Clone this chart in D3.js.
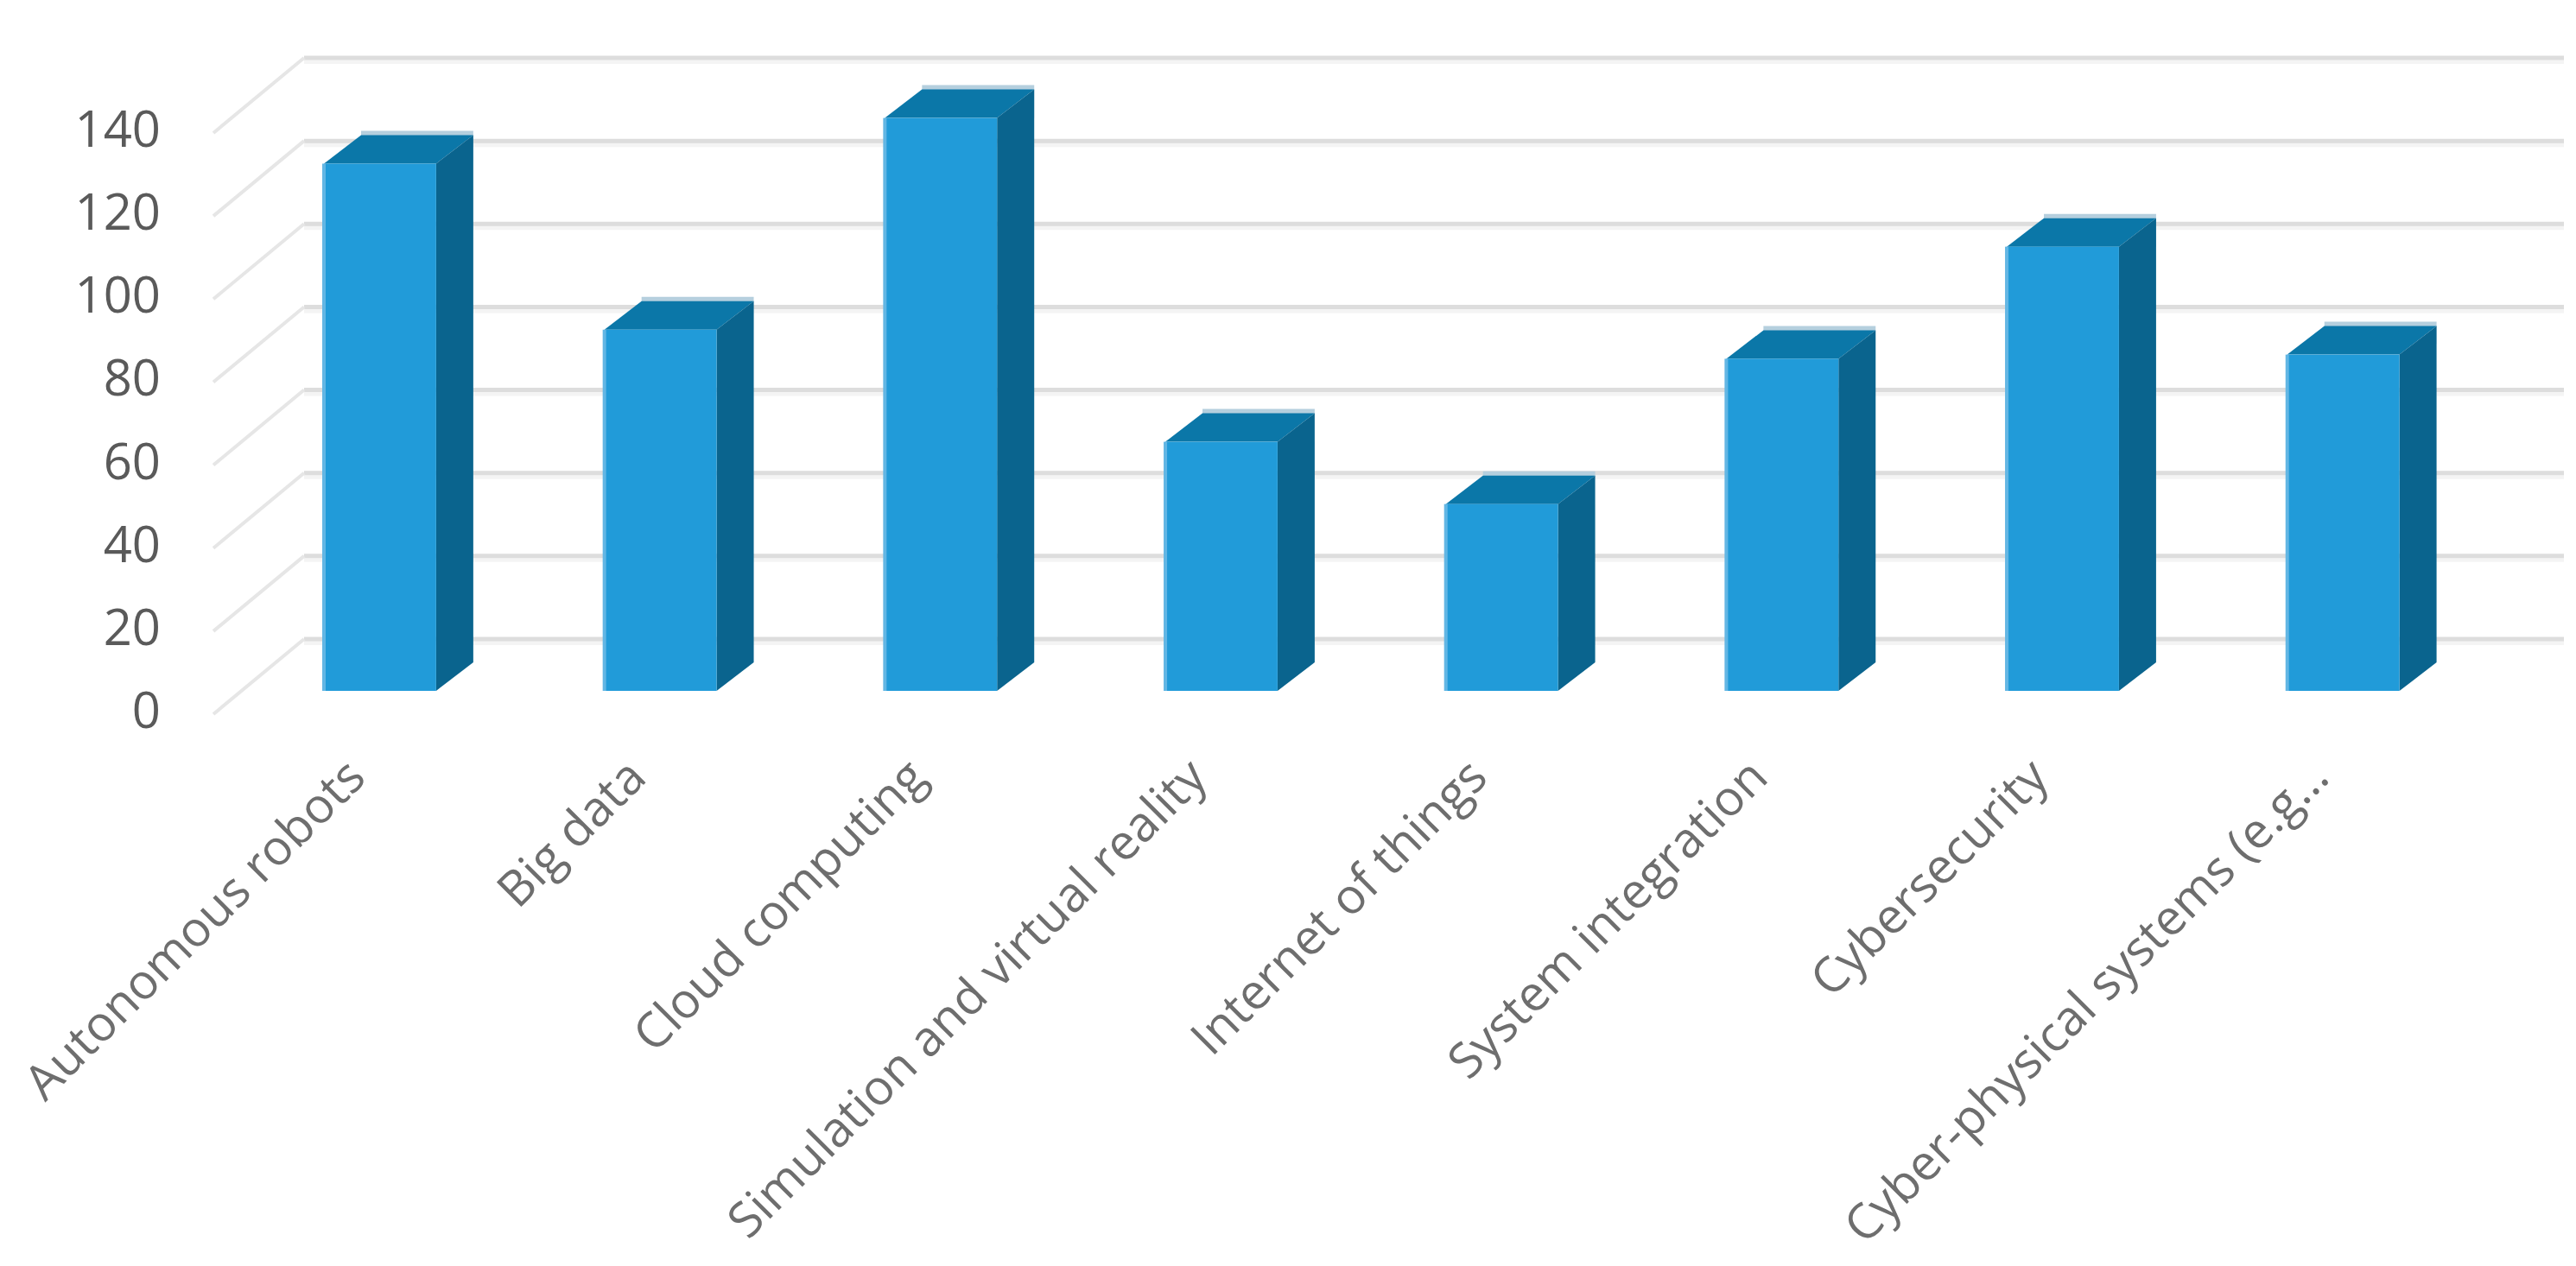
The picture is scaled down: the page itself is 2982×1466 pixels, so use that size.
<!DOCTYPE html>
<html>
<head>
<meta charset="utf-8">
<script src="https://cdn.jsdelivr.net/npm/d3@7"></script>
<style>
  html, body { margin: 0; background: #fff; }
  svg { display: block; }
  .tick text { font-family: "Open Sans", sans-serif; }
  .y-axis .tick text { font-size: 58px; fill: #5a5a5a; }
  .x-axis .tick text { font-size: 56.5px; fill: #6e6e6e; }
</style>
</head>
<body>
<svg id="chart" width="2982" height="1466"></svg>
<script>
const categories = [
  "Autonomous robots",
  "Big data",
  "Cloud computing",
  "Simulation and virtual reality",
  "Internet of things",
  "System integration",
  "Cybersecurity",
  "Cyber-physical systems (e.g…"
];
const counts = [127, 87, 138, 60, 45, 80, 107, 81];
const yTicks = [0, 20, 40, 60, 80, 100, 120, 140];

const colors = { front: "#219bd9", edge: "#62b6e4", side: "#0a648e", top: "#0b77a8", lip: "#b5cfde" };

// 3D look: floor depth of the chart box and depth of a single bar
const floor = { dx: 105, dy: 87, left: 247, right: 2968 };
const barDepth = { dx: 43, dy: 33, lift: 27 };

const svg = d3.select("#chart");

const xScale = d3.scaleBand()
  .domain(categories)
  .range([277.6, 2875])
  .paddingInner(0.6)
  .paddingOuter(0.3);

const yScale = d3.scaleLinear()
  .domain([0, 140])
  .range([827, 154]);

// Gridlines on the back wall and the side wall
const grid = svg.append("g").attr("class", "grid");

grid.selectAll(".grid-shade")
  .data(yTicks)
  .join("line")
    .attr("class", "grid-shade")
    .attr("x1", floor.left + floor.dx)
    .attr("x2", floor.right)
    .attr("y1", d => yScale(d) - floor.dy + 4)
    .attr("y2", d => yScale(d) - floor.dy + 4)
    .attr("stroke", "#f4f4f4")
    .attr("stroke-width", 6);

grid.selectAll(".grid-back")
  .data(yTicks)
  .join("line")
    .attr("class", "grid-back")
    .attr("x1", floor.left + floor.dx)
    .attr("x2", floor.right)
    .attr("y1", d => yScale(d) - floor.dy)
    .attr("y2", d => yScale(d) - floor.dy)
    .attr("stroke", "#dddddd")
    .attr("stroke-width", 5);

grid.selectAll(".grid-side")
  .data(yTicks)
  .join("line")
    .attr("class", "grid-side")
    .attr("x1", floor.left)
    .attr("x2", floor.left + floor.dx)
    .attr("y1", d => yScale(d))
    .attr("y2", d => yScale(d) - floor.dy)
    .attr("stroke", "#e6e6e6")
    .attr("stroke-width", 4);

// Bars: top and side faces first, then the front
const bars = svg.append("g")
  .attr("class", "bars")
  .selectAll(".bar")
  .data(categories.map((c, i) => ({ category: c, value: counts[i] })))
  .join("g")
    .attr("class", "bar");

const bx = d => xScale(d.category);
const bw = xScale.bandwidth();
const by = v => yScale(v) - barDepth.lift;

bars.append("path")
  .attr("fill", colors.lip)
  .attr("d", d => `M${bx(d) + barDepth.dx},${by(d.value) - barDepth.dy - 5}h${bw}v6h${-bw}z`);

bars.append("path")
  .attr("fill", colors.top)
  .attr("d", d => `M${bx(d)},${by(d.value)}l${barDepth.dx},${-barDepth.dy}h${bw}l${-barDepth.dx},${barDepth.dy}z`);

bars.append("path")
  .attr("fill", colors.side)
  .attr("d", d => `M${bx(d) + bw},${by(d.value)}l${barDepth.dx},${-barDepth.dy}V${by(0) - barDepth.dy}l${-barDepth.dx},${barDepth.dy}z`);

bars.append("rect")
  .attr("fill", colors.front)
  .attr("x", d => bx(d))
  .attr("y", d => by(d.value))
  .attr("width", bw)
  .attr("height", d => by(0) - by(d.value));

bars.append("rect")
  .attr("fill", colors.edge)
  .attr("x", d => bx(d) - 2)
  .attr("y", d => by(d.value))
  .attr("width", 4)
  .attr("height", d => by(0) - by(d.value));

// Axes
const yAxis = d3.axisLeft(yScale)
  .tickValues(yTicks)
  .tickSize(0)
  .tickPadding(0);

svg.append("g")
  .attr("class", "y-axis")
  .attr("transform", "translate(186,-3)")
  .call(yAxis)
  .call(g => g.select(".domain").remove());

const xAxis = d3.axisBottom(xScale)
  .tickSize(0);

svg.append("g")
  .attr("class", "x-axis")
  .attr("transform", "translate(-28,889)")
  .call(xAxis)
  .call(g => g.select(".domain").remove())
  .selectAll("text")
    .attr("x", 0)
    .attr("y", 0)
    .attr("dy", "0.35em")
    .attr("text-anchor", "end")
    .attr("transform", "rotate(-45)");
</script>
</body>
</html>
